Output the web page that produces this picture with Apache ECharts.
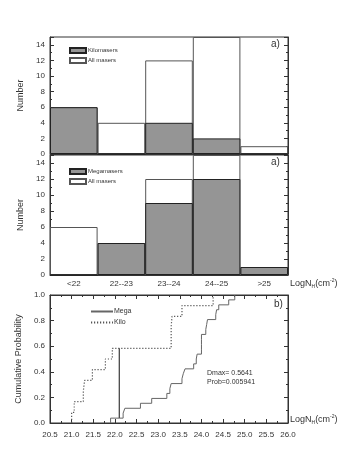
<!DOCTYPE html>
<html><head><meta charset="utf-8">
<script src="https://cdn.jsdelivr.net/npm/echarts@6/dist/echarts.min.js"></script>
<style>html,body{margin:0;padding:0;background:#fff}#c{width:356px;height:459px}</style>
</head><body><div id="c"></div>
<script>
// ---- data ----
const categories = ['<22', '22--23', '23--24', '24--25', '>25'];
const kiloCounts = [6, 0, 4, 2, 0];
const allCountsTop = [6, 4, 12, 15, 1];
const megaCounts = [0, 4, 9, 12, 1];
const allCountsMid = [6, 4, 12, 15, 1];
const histTicks = [0, 2, 4, 6, 8, 10, 12, 14];

const megaX = [21.9, 22.19, 22.23, 22.59, 22.85, 23.2, 23.27, 23.3, 23.55, 23.58, 23.62, 23.82, 23.88, 23.9, 24.0, 24.0, 24.0, 24.0, 24.1, 24.12, 24.14, 24.33, 24.35, 24.4, 24.63, 24.77];
const megaP = [0.038, 0.077, 0.115, 0.154, 0.192, 0.231, 0.269, 0.308, 0.346, 0.385, 0.423, 0.462, 0.5, 0.538, 0.577, 0.615, 0.654, 0.692, 0.731, 0.769, 0.808, 0.846, 0.885, 0.923, 0.962, 1.0];
const kiloX = [21.0, 21.06, 21.27, 21.3, 21.48, 21.78, 21.94, 23.3, 23.3, 23.32, 23.55, 24.27];
const kiloP = [0.083, 0.167, 0.25, 0.333, 0.417, 0.5, 0.583, 0.667, 0.75, 0.833, 0.917, 1.0];
const dmaxX = 22.1;
const dmaxRange = [0.04, 0.583];
const cdfTicks = [20.5, 21.0, 21.5, 22.0, 22.5, 23.0, 23.5, 24.0, 24.5, 25.0, 25.5, 26.0];

function cdf(xs, ps) {
  const d = [[xs[0], 0]];
  for (let i = 0; i < xs.length; i++) d.push([xs[i], ps[i]]);
  return d;
}

const AX = '#333';
const TXT = '#333';
const chart = echarts.init(document.getElementById('c'));
const grids = [
  {left: 50, top: 37, width: 238, height: 117},
  {left: 50, top: 155, width: 238, height: 120},
  {left: 50, top: 295, width: 238, height: 128}
];
const inTick = {show: true, inside: true, length: 4, lineStyle: {color: AX}};
const inMinor = {show: true, splitNumber: 2, length: 2, lineStyle: {color: AX}};
function histY(gi, pos, labels) {
  return {
    gridIndex: gi, type: 'value', min: 0, max: 15, interval: 2, position: pos,
    axisLine: {show: true, onZero: false, lineStyle: {color: AX}},
    axisTick: inTick, minorTick: inMinor, splitLine: {show: false},
    axisLabel: {show: labels, fontSize: 8, color: TXT, margin: 5, fontFamily: 'Liberation Sans',
      formatter: v => histTicks.indexOf(v) >= 0 ? String(v) : ''},
    name: labels ? 'Number' : '', nameLocation: 'middle', nameGap: 22,
    nameTextStyle: {fontSize: 9, color: TXT, fontFamily: 'Liberation Sans'}
  };
}
const subLabel = '{a|LogN}{s|H}{a|(cm}{p|-2}{a|)}';
const richLab = {
  a: {fontSize: 9, fill: TXT, fontFamily: 'Liberation Sans'},
  s: {fontSize: 5, fill: TXT, fontFamily: 'Liberation Sans', padding: [6, 0, 0, 0]},
  p: {fontSize: 5, fill: TXT, fontFamily: 'Liberation Sans', padding: [0, 0, 6, 0]}
};

const option = {
  animation: false,
  backgroundColor: '#fff',
  grid: grids.map(g => Object.assign({show: true, borderColor: AX, borderWidth: 1, backgroundColor: 'transparent'}, g)),
  legend: [
    {data: ['Kilomasers', 'All masers'], orient: 'vertical', left: 64, top: 42, icon: 'rect',
     itemWidth: 16, itemHeight: 5, itemGap: 3, textStyle: {fontSize: 6, color: TXT, fontFamily: 'Liberation Sans', padding: [0,0,0,-3]},
     selectedMode: false},
    {data: ['Megamasers', 'All masers'], orient: 'vertical', left: 64, top: 163, icon: 'rect',
     itemWidth: 16, itemHeight: 5, itemGap: 3, textStyle: {fontSize: 6, color: TXT, fontFamily: 'Liberation Sans', padding: [0,0,0,-3]},
     selectedMode: false},
    {data: ['Mega', 'Kilo'], orient: 'vertical', left: 85, top: 303,
     itemWidth: 22, itemHeight: 6, itemGap: 4, itemStyle: {opacity: 0},
     textStyle: {fontSize: 7, color: TXT, fontFamily: 'Liberation Sans', padding: [0,0,0,-4]},
     selectedMode: false}
  ],
  xAxis: [
    {gridIndex: 0, type: 'category', data: categories, boundaryGap: true,
     axisLine: {show: true, lineStyle: {color: AX}}, axisTick: {show: false}, axisLabel: {show: false}},
    {gridIndex: 1, type: 'category', data: categories, boundaryGap: true,
     axisLine: {show: true, lineStyle: {color: AX}}, axisTick: {show: false},
     axisLabel: {fontSize: 8, color: TXT, margin: 5, fontFamily: 'Liberation Sans'}},
    {gridIndex: 2, type: 'value', min: 20.5, max: 26, interval: 0.5,
     axisLine: {show: true, onZero: false, lineStyle: {color: AX}}, axisTick: inTick, minorTick: inMinor,
     splitLine: {show: false},
     axisLabel: {fontSize: 8, color: TXT, margin: 8, fontFamily: 'Liberation Sans',
       formatter: v => cdfTicks.indexOf(v) >= 0 ? v.toFixed(1) : ''}},
    {gridIndex: 2, type: 'value', min: 20.5, max: 26, interval: 0.5, position: 'top',
     axisLine: {show: true, onZero: false, lineStyle: {color: AX}}, axisTick: inTick, minorTick: inMinor,
     splitLine: {show: false}, axisLabel: {show: false}}
  ],
  yAxis: [
    histY(0, 'left', true), histY(0, 'right', false),
    histY(1, 'left', true), histY(1, 'right', false),
    {gridIndex: 2, type: 'value', min: 0, max: 1, interval: 0.2,
     axisLine: {show: true, onZero: false, lineStyle: {color: AX}}, axisTick: inTick, minorTick: inMinor,
     splitLine: {show: false},
     axisLabel: {fontSize: 8, color: TXT, margin: 5, fontFamily: 'Liberation Sans', formatter: v => v.toFixed(1)},
     name: 'Cumulative Probability', nameLocation: 'middle', nameGap: 23,
     nameTextStyle: {fontSize: 9, color: TXT, fontFamily: 'Liberation Sans'}},
    {gridIndex: 2, type: 'value', min: 0, max: 1, interval: 0.2, position: 'right',
     axisLine: {show: true, onZero: false, lineStyle: {color: AX}}, axisTick: inTick, minorTick: inMinor,
     splitLine: {show: false}, axisLabel: {show: false}}
  ],
  series: [
    {name: 'All masers', type: 'bar', xAxisIndex: 0, yAxisIndex: 0, data: allCountsTop, barWidth: '100%', barGap: '-100%',
     itemStyle: {color: '#fff', borderColor: '#555', borderWidth: 1}},
    {name: 'Kilomasers', type: 'bar', xAxisIndex: 0, yAxisIndex: 0, data: kiloCounts, barWidth: '100%', barGap: '-100%',
     itemStyle: {color: '#959595', borderColor: '#222', borderWidth: 1}},
    {name: 'All masers', type: 'bar', xAxisIndex: 1, yAxisIndex: 2, data: allCountsMid, barWidth: '100%', barGap: '-100%',
     itemStyle: {color: '#fff', borderColor: '#555', borderWidth: 1}},
    {name: 'Megamasers', type: 'bar', xAxisIndex: 1, yAxisIndex: 2, data: megaCounts, barWidth: '100%', barGap: '-100%',
     itemStyle: {color: '#959595', borderColor: '#222', borderWidth: 1}},
    {name: 'Mega', type: 'line', xAxisIndex: 2, yAxisIndex: 4, step: 'end', symbol: 'none',
     data: cdf(megaX, megaP), lineStyle: {color: '#666', width: 1, type: 'solid'}, itemStyle: {color: '#666'}},
    {name: 'Kilo', type: 'line', xAxisIndex: 2, yAxisIndex: 4, step: 'end', symbol: 'none',
     data: cdf(kiloX, kiloP), lineStyle: {color: '#555', width: 1.2, type: [1.2, 1.8]}, itemStyle: {color: '#555'}},
    {name: 'Dmax', type: 'line', xAxisIndex: 2, yAxisIndex: 4, symbol: 'none',
     data: [[dmaxX, dmaxRange[0]], [dmaxX, dmaxRange[1]]], lineStyle: {color: '#111', width: 1}}
  ],
  graphic: [
    {type: 'text', left: 271, top: 39, style: {text: 'a)', fontSize: 10, fill: TXT, fontFamily: 'Liberation Sans'}},
    {type: 'text', left: 271, top: 157, style: {text: 'a)', fontSize: 10, fill: TXT, fontFamily: 'Liberation Sans'}},
    {type: 'text', left: 274, top: 299, style: {text: 'b)', fontSize: 10, fill: TXT, fontFamily: 'Liberation Sans'}},
    {type: 'text', left: 290, top: 278, style: {text: subLabel, rich: richLab}},
    {type: 'text', left: 290, top: 414, style: {text: subLabel, rich: richLab}},
    {type: 'text', left: 207, top: 370, style: {text: 'Dmax= 0.5641', fontSize: 7, fill: TXT, fontFamily: 'Liberation Sans'}},
    {type: 'text', left: 207, top: 379, style: {text: 'Prob=0.005941', fontSize: 7, fill: TXT, fontFamily: 'Liberation Sans'}}
  ]
};
chart.setOption(option);
</script></body></html>
